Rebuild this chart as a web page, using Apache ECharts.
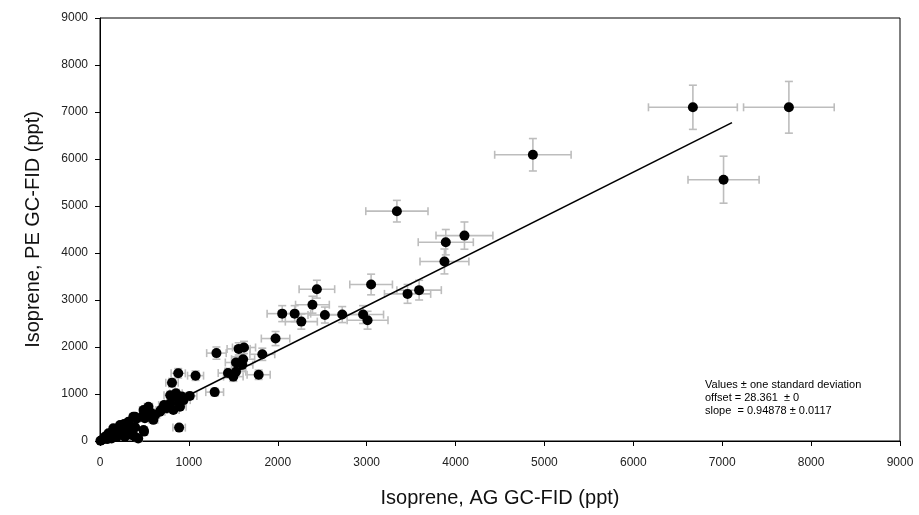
<!DOCTYPE html>
<html>
<head>
<meta charset="utf-8">
<script src="https://cdn.jsdelivr.net/npm/echarts@6/dist/echarts.min.js"></script>
<style>html,body{margin:0;padding:0;background:#fff}#c{width:919px;height:515px}</style>
</head>
<body>
<div id="c"></div>
<script>
// AG GC-FID (x), PE GC-FID (y), and their standard deviations
var agValues = [6670,7750,7015,4870,3340,4100,3890,3875,3050,3460,3590,2960,3010,2440,2390,2050,2190,2265,2530,2725,1975,1310,1560,1620,1610,1530,1600,1826,1440,1530,1500,1785,880,1075,810,1290,790,855,830,920,1010,890,900,720,685,890,600,545,490,415,395,495,545,525,490,505,395,490,320,300,225,245,150,170,95,55,20,5,395,430,355,280,190,130,790,750,825,675,620,565,580,375,940,300,250,200,80,350,270,110];
var peValues = [7100,7100,5560,6090,4890,4370,4230,3820,3330,3130,3210,2690,2570,3230,2900,2710,2710,2540,2680,2690,2180,1870,1960,1990,1740,1670,1620,1845,1445,1475,1370,1410,1440,1390,1240,1040,975,1015,940,945,960,815,730,765,660,285,450,605,660,480,290,200,730,660,555,485,515,235,410,305,340,270,270,200,165,90,20,5,90,55,130,90,90,55,800,695,660,625,555,515,590,515,870,200,150,150,40,250,360,100];
var agErr = [500,510,400,430,350,320,310,275,240,260,250,230,230,200,190,170,180,180,190,200,160,110,130,130,130,120,120,140,110,110,110,130,80,90,70,100,70,70,70,75,80,70,70,60,55,70,50,45,45,40,35,40,45,45,45,45,35,40,30,30,25,25,20,20,15,10,10,10,35,40,30,30,20,20,65,60,65,55,50,50,50,35,75,30,25,20,15,35,30,15];
var peErr = [470,550,500,345,230,290,270,265,220,200,210,190,190,190,180,170,170,160,170,170,150,130,130,130,120,120,110,130,100,100,100,100,100,100,90,80,80,80,75,75,75,70,65,65,60,40,45,55,55,45,35,30,60,55,50,45,45,30,40,35,35,30,30,25,20,15,10,10,20,15,20,20,20,15,70,60,60,55,50,50,50,45,70,25,20,20,15,30,35,15];
// fitted line end points (offset 28.361, slope 0.94878)
var fitX = [0, 7110];
var fitY = [28, 6774];
var xTicks = [0,1000,2000,3000,4000,5000,6000,7000,8000,9000];
var yTicks = [0,1000,2000,3000,4000,5000,6000,7000,8000,9000];

var pts = agValues.map(function(v,i){return [v, peValues[i]];});
var errData = agValues.map(function(v,i){return [v, peValues[i], agErr[i], peErr[i]];});
var fitData = fitX.map(function(v,i){return [v, fitY[i]];});

var chart = echarts.init(document.getElementById('c'), null, {renderer:'canvas'});
var errStyle = {stroke:'#bdbdbd', lineWidth:1.6};
function plain(v){return String(v);}
chart.setOption({
  animation:false,
  grid:{left:100, right:19, top:18, bottom:74, show:true, borderColor:'#000', borderWidth:1, backgroundColor:'transparent'},
  xAxis:{
    type:'value', min:xTicks[0], max:xTicks[xTicks.length-1], interval:1000,
    name:'Isoprene, AG GC-FID (ppt)', nameLocation:'middle', nameGap:47,
    nameTextStyle:{fontFamily:'Liberation Sans', fontSize:20, color:'#111'},
    axisLine:{show:true, onZero:false, lineStyle:{color:'#000', width:1}},
    axisTick:{show:true, length:5, lineStyle:{color:'#000'}},
    axisLabel:{fontFamily:'Liberation Sans', fontSize:12, color:'#222', margin:16, formatter:plain},
    splitLine:{show:false}
  },
  yAxis:{
    type:'value', min:yTicks[0], max:yTicks[yTicks.length-1], interval:1000,
    name:'Isoprene, PE GC-FID (ppt)', nameLocation:'middle', nameGap:57, nameRotate:90,
    nameTextStyle:{fontFamily:'Liberation Sans', fontSize:20, color:'#111'},
    axisLine:{show:true, onZero:false, lineStyle:{color:'#000', width:1}},
    axisTick:{show:true, length:5, lineStyle:{color:'#000'}},
    axisLabel:{fontFamily:'Liberation Sans', fontSize:12, color:'#222', margin:12, formatter:plain},
    splitLine:{show:false}
  },
  series:[
    {
      type:'custom', z:1,
      renderItem:function(params, api){
        var x=api.value(0), y=api.value(1), ex=api.value(2), ey=api.value(3);
        var l=api.coord([x-ex,y]), r=api.coord([x+ex,y]);
        var t=api.coord([x,y+ey]), b=api.coord([x,y-ey]);
        var c=4;
        return {type:'group', children:[
          {type:'line', shape:{x1:l[0],y1:l[1],x2:r[0],y2:r[1]}, style:errStyle},
          {type:'line', shape:{x1:l[0],y1:l[1]-c,x2:l[0],y2:l[1]+c}, style:errStyle},
          {type:'line', shape:{x1:r[0],y1:r[1]-c,x2:r[0],y2:r[1]+c}, style:errStyle},
          {type:'line', shape:{x1:t[0],y1:t[1],x2:b[0],y2:b[1]}, style:errStyle},
          {type:'line', shape:{x1:t[0]-c,y1:t[1],x2:t[0]+c,y2:t[1]}, style:errStyle},
          {type:'line', shape:{x1:b[0]-c,y1:b[1],x2:b[0]+c,y2:b[1]}, style:errStyle}
        ]};
      },
      encode:{x:0, y:1},
      data:errData
    },
    {
      type:'line', z:2, data:fitData, symbol:'none',
      lineStyle:{color:'#000', width:1.6}
    },
    {
      type:'scatter', z:3, data:pts, symbol:'circle', symbolSize:10,
      itemStyle:{color:'#000', opacity:1}
    }
  ],
  graphic:[{
    type:'text', left:705, top:378,
    style:{
      text:'Values \u00b1 one standard deviation\noffset = 28.361  \u00b1 0\nslope  = 0.94878 \u00b1 0.0117',
      fontFamily:'Liberation Sans', fontSize:11, lineHeight:13, fill:'#000'
    }
  }]
});
</script>
</body>
</html>
